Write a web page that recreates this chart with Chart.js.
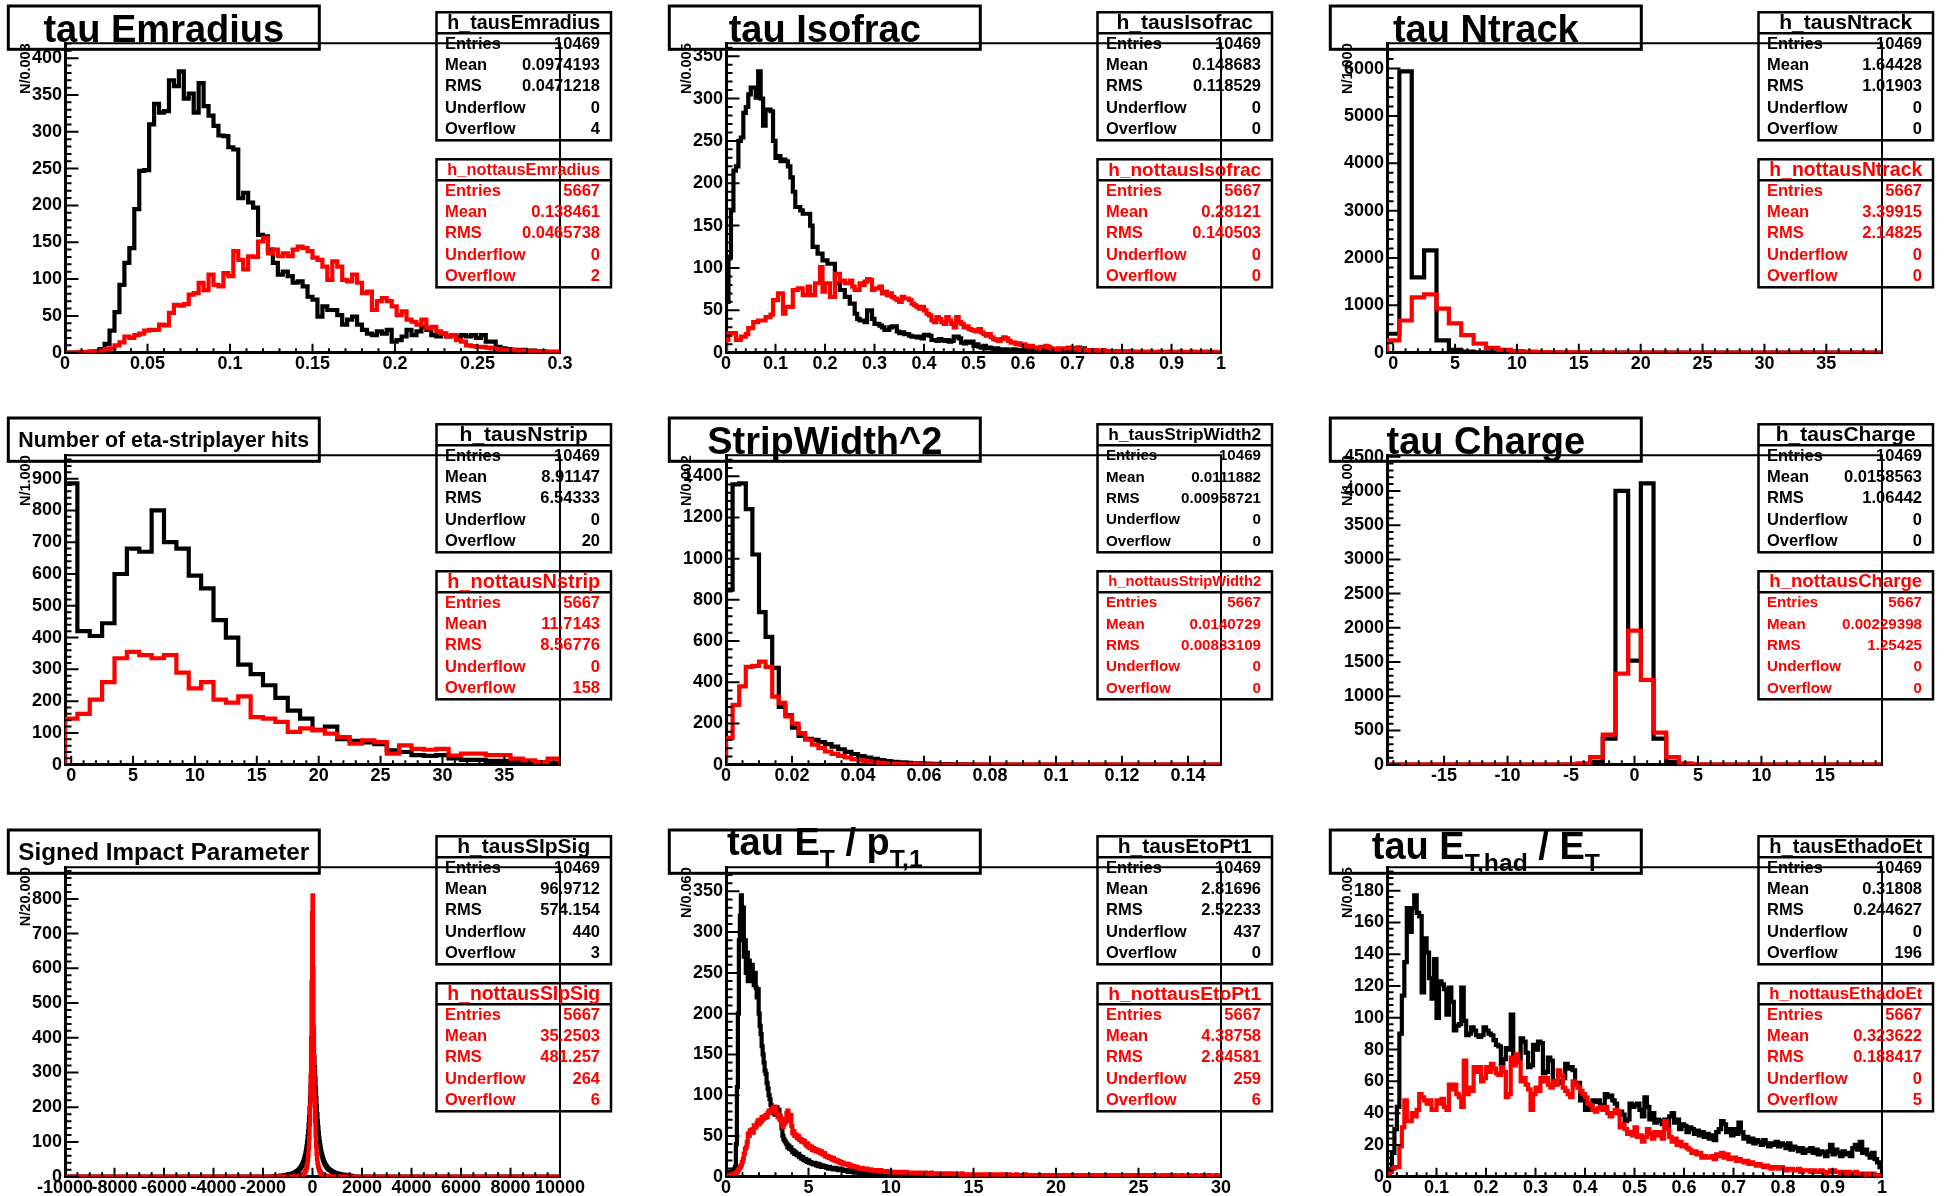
<!DOCTYPE html>
<html>
<head>
<meta charset="utf-8">
<title>Tau identification variables</title>
<script src="https://cdn.jsdelivr.net/npm/chart.js@4.4.1/dist/chart.umd.min.js"></script>
<style>
  html, body { margin: 0; padding: 0; background: #ffffff; width: 1946px; height: 1196px; overflow: hidden; }
</style>
</head>
<body>
<script>
// ---------------- histogram contents (bin counts) ----------------

// EM radius, 100 bins on [0, 0.3]
const emradiusTaus = [
  0,0,0,0,0,1,2,5,12,30,
  55,92,122,142,195,247,248,310,338,326,
  328,370,362,382,345,352,326,366,335,322,
  308,295,294,279,276,210,217,204,197,160,
  158,140,122,106,110,104,95,97,90,76,
  72,49,63,58,58,51,38,45,49,38,
  31,26,24,29,26,31,15,17,22,31,
  24,29,35,31,24,22,26,22,24,22,
  24,22,24,20,24,15,15,8,6,5,
  4,4,4,3,3,2,2,1,1,1];
const emradiusNotTaus = [
  0,0,0,1,1,2,2,3,5,6,
  10,14,22,20,24,26,30,31,31,38,
  37,54,65,64,66,79,81,95,85,106,
  92,90,108,104,138,126,113,131,130,151,
  156,135,140,131,135,131,140,144,142,138,
  129,126,117,99,124,117,99,97,106,95,
  81,83,58,70,74,70,63,51,56,45,
  42,38,45,33,35,29,26,22,24,17,
  15,10,9,8,8,7,6,5,4,4,
  4,3,3,3,2,2,2,1,1,1];

// isolation fraction, 200 bins on [0, 1]
const isofracTaus = [
  60,113,168,215,220,250,254,283,290,305,
  313,313,301,332,300,268,287,287,285,250,
  230,232,226,228,226,220,207,190,172,172,
  168,164,164,164,150,125,125,117,117,109,
  109,105,105,105,82,82,74,74,66,66,
  58,58,46,40,38,38,36,50,50,40,
  34,34,32,30,27,27,30,31,31,25,
  23,24,22,22,20,19,19,18,19,17,
  21,21,20,15,15,14,16,15,14,15,
  13,14,19,19,17,12,11,13,12,13,
  8,10,7,6,8,5,6,5,4,5,
  4,4,3,4,3,3,4,3,2,3,
  3,2,3,2,2,2,3,2,2,1,
  2,2,1,2,2,1,2,2,1,2,
  4,5,6,4,5,3,2,2,1,2,
  1,1,2,1,1,1,0,1,1,0,
  1,0,1,0,0,1,0,0,1,0,
  0,1,0,0,0,1,0,0,0,1,
  0,0,0,1,0,0,0,0,1,0,
  0,0,0,0,1,0,0,0,0,0];
const isofracNotTaus = [
  15,23,23,23,15,15,19,19,22,29,
  29,36,36,38,38,38,42,42,45,62,
  62,70,70,46,54,54,54,74,74,76,
  76,68,68,78,68,68,82,82,101,72,
  82,82,66,66,93,93,85,85,82,82,
  85,78,74,74,82,80,84,87,86,74,
  76,76,78,70,72,68,70,66,64,62,
  60,66,64,64,62,58,56,54,52,54,
  50,46,44,38,36,42,40,36,34,42,
  38,34,30,42,36,34,30,31,28,27,
  26,25,28,24,22,20,22,18,16,15,
  14,16,18,17,14,12,12,10,11,9,
  10,8,7,8,6,6,5,7,6,8,
  7,5,4,4,5,4,5,5,6,5,
  5,4,5,3,4,3,3,2,3,3,
  2,2,3,2,2,2,1,2,2,1,
  2,1,1,2,1,1,1,1,0,1,
  1,0,1,1,0,1,0,1,1,0,
  1,0,0,1,0,1,0,1,0,0,
  1,0,0,1,0,0,0,1,0,0];

// number of tracks, 40 bins on [-0.5, 39.5]
const ntrackTaus = [
  400,5940,1590,2160,260,60,25,10,5,3,
  2,1,1,0,0,0,0,0,0,0,
  0,0,0,0,0,0,0,0,0,0,
  0,0,0,0,0,0,0,0,0,0];
const ntrackNotTaus = [
  260,680,1170,1230,930,620,370,190,100,60,
  35,25,15,10,8,5,4,3,2,2,
  1,1,1,1,0,1,0,0,1,0,
  0,0,0,0,0,0,0,0,0,0];

// eta-strip layer hits, 40 bins on [-0.5, 39.5]
const nstripTaus = [
  885,420,405,445,600,680,670,800,700,680,
  595,555,455,400,315,285,250,210,170,145,
  110,120,80,75,70,65,45,40,30,28,
  30,20,15,15,12,12,10,8,6,5];
const nstripNotTaus = [
  145,160,205,260,335,355,345,335,345,290,
  240,260,205,195,215,150,145,135,103,114,
  108,98,87,66,77,71,35,61,50,47,
  50,29,35,35,30,30,19,14,8,19];

// strip width squared, 75 bins on [0, 0.15]
const stripWidthTaus = [
  850,1360,1365,1240,1020,740,620,470,280,240,
  180,140,125,120,110,100,88,75,62,52,
  42,35,28,22,18,14,11,9,7,6,
  5,4,3,3,2,2,2,1,1,1,
  1,1,0,1,0,0,1,0,0,0,
  0,0,0,0,0,0,0,0,0,0,
  0,0,0,0,0,0,0,0,0,0,
  0,0,0,0,0];
const stripWidthNotTaus = [
  130,290,380,475,480,500,475,330,300,235,
  200,153,121,97,80,64,53,43,35,27,
  21,16,12,9,7,5,4,3,3,2,
  2,1,1,1,1,1,0,1,0,0,
  0,0,0,0,0,0,0,0,0,0,
  0,0,0,0,0,0,0,0,0,0,
  0,0,0,0,0,0,0,0,0,0,
  0,0,0,0,0];

// charge, 39 bins on [-19.5, 19.5]
const chargeTaus = [
  0,0,0,0,0,0,0,0,0,0,
  0,0,0,0,0,5,40,380,4000,1520,
  4110,380,40,5,0,0,0,0,0,0,
  0,0,0,0,0,0,0,0,0];
const chargeNotTaus = [
  0,0,0,0,0,0,0,0,0,0,
  0,0,0,0,5,20,110,440,1330,1960,
  1240,470,110,20,5,0,0,0,0,0,
  0,0,0,0,0,0,0,0,0];

// signed impact parameter significance, bins of 20 on [-1600, 1600]
// (all other bins of the [-10000, 10000] axis are empty)
const sipSigTaus = [
  1,1,2,1,1,2,1,2,2,2, 2,2,2,2,2,3,3,3,3,3,
  3,4,4,4,4,4,5,5,5,5, 6,6,6,7,7,7,8,8,8,9,
  9,10,10,11,12,12,13,14,15,16, 17,18,20,21,23,25,27,29,32,35,
  38,42,46,51,57,63,70,79,89,101, 115,131,150,172,198,228,262,300,340,370,
  390,385,370,345,315,285,255,228,203,180, 160,142,126,112,100,90,81,73,66,60,
  55,50,46,42,39,36,33,31,29,27, 25,23,22,21,20,19,18,17,16,15,
  14,13,13,12,12,11,11,10,10,9, 9,9,8,8,8,7,7,7,6,6,
  6,6,5,5,5,5,5,4,4,4, 4,4,3,3,3,3,3,3,2,2];
const sipSigNotTaus = [
  0,0,0,1,0,0,0,1,0,0, 1,0,0,1,0,0,1,0,0,1,
  0,0,1,0,1,0,0,1,0,1, 0,1,1,0,1,0,1,1,0,1,
  1,1,1,1,1,1,1,1,1,2, 2,2,2,3,3,3,4,4,5,5,
  6,7,8,10,12,15,18,23,29,37, 47,62,82,110,150,205,290,400,560,760,
  810,600,430,310,220,160,118,88,66,50, 39,31,25,20,16,13,11,9,8,7,
  6,5,5,4,4,3,3,3,2,2, 2,2,2,1,1,1,1,1,1,1,
  1,1,0,1,1,0,1,1,0,1, 0,1,0,1,0,0,1,0,1,0,
  0,1,0,0,1,0,0,0,1,0, 0,1,0,0,0,1,0,0,0,0];

// E_T / p_T of leading track, 500 bins on [0, 30]
const etoPtTaus = [
  3,4,5,5,6,6,7,8,9,12, 40,110,200,290,320,345,300,330,270,290,
  250,275,240,265,250,240,260,245,235,250, 232,220,230,200,185,175,160,150,140,130,
  126,115,108,100,95,88,85,82,80,76, 80,85,78,82,75,70,60,50,46,44,
  42,40,36,38,34,36,33,30,32,28, 30,27,26,28,24,25,22,24,21,20,
  22,19,18,20,17,18,16,17,15,17, 15,14,16,13,15,14,12,14,13,12,
  13,11,12,10,12,11,10,11,9,10, 11,9,10,8,9,10,8,9,8,7,
  8,7,8,6,7,8,6,7,6,5, 7,6,5,6,5,6,5,4,6,5,
  5,4,5,6,4,5,4,5,4,3, 5,4,4,3,5,4,3,4,3,4,
  3,4,3,4,3,2,4,3,3,4, 3,3,2,4,3,3,2,3,3,2,
  3,2,3,3,2,3,2,2,3,2, 3,2,2,3,2,2,3,2,2,2,
  2,3,2,2,1,2,3,2,2,1, 2,2,3,2,1,2,2,1,2,2,
  2,1,2,2,3,2,1,2,2,1, 2,1,2,2,1,2,2,1,1,2,
  2,1,2,1,2,2,1,2,1,1, 2,1,1,2,1,2,1,1,2,1,
  1,2,1,1,2,1,1,2,1,1, 1,2,1,1,1,2,1,1,2,1,
  1,1,2,1,1,1,2,1,1,1, 2,1,1,1,1,2,1,1,1,1,
  1,2,1,1,1,1,2,1,1,1, 1,1,1,2,1,1,1,1,1,2,
  1,1,1,1,1,2,1,1,1,1, 1,2,1,1,1,1,1,1,2,1,
  1,1,1,1,2,1,1,1,1,1, 1,1,2,1,1,1,1,1,1,1,
  2,1,1,1,1,1,1,2,1,1, 1,1,1,1,1,2,1,1,1,1,
  1,1,1,2,1,1,1,1,1,1, 1,1,2,1,1,1,1,1,1,1,
  1,1,1,1,1,2,1,1,1,1, 1,1,1,1,1,1,1,2,1,1,
  1,1,1,1,1,1,1,1,1,1, 1,1,2,1,1,1,1,1,0,1,
  1,1,1,0,1,1,1,1,1,0, 1,1,1,1,0,1,1,1,1,1,
  0,1,1,1,1,1,0,1,1,1, 1,0,1,1,1,1,1,0,1,1,
  1,1,0,1,1,1,1,1,0,1, 1,1,1,0,1,1,1,1,1,0];
const etoPtNotTaus = [
  1,1,2,2,2,3,3,3,4,4, 5,6,8,10,12,14,18,22,28,34,
  36,42,53,50,57,55,58,54,63,60, 62,66,69,64,70,67,73,70,74,72,
  76,73,78,81,78,82,80,84,85,86, 82,78,73,76,70,72,66,61,64,66,
  70,78,81,74,68,76,62,53,56,50, 52,49,47,50,45,46,43,45,42,44,
  40,38,41,36,38,35,37,33,35,32, 34,31,33,30,32,29,31,28,27,29,
  25,26,24,25,23,24,22,21,23,20, 21,19,20,18,19,17,18,16,17,15,
  16,15,16,14,15,13,14,13,12,13, 12,11,12,11,10,11,10,11,9,10,
  10,9,10,8,9,8,9,8,7,8, 8,7,8,7,7,6,8,7,6,7,
  7,6,7,6,6,7,5,6,6,5, 6,6,5,6,5,5,6,5,5,6,
  5,5,6,4,5,5,4,5,5,4, 5,4,5,4,4,5,4,4,5,4,
  4,5,4,4,3,4,4,5,3,4, 4,3,4,4,3,4,3,4,4,3,
  3,4,3,4,3,3,4,3,3,4, 3,3,4,3,3,3,2,3,4,3,
  3,3,2,3,3,2,3,3,2,3, 3,2,3,3,2,3,2,3,2,3,
  2,3,2,3,2,2,3,2,2,3, 2,2,3,2,2,2,3,2,2,2,
  2,3,2,2,2,2,3,2,2,2, 2,2,2,3,2,2,2,2,2,2,
  2,2,3,2,2,2,1,2,2,2, 2,1,2,2,2,2,1,2,2,1,
  2,2,1,2,2,1,2,2,1,2, 2,1,2,1,2,2,1,2,1,2,
  1,2,1,2,1,2,1,1,2,1, 2,1,1,2,1,2,1,1,2,1,
  1,2,1,1,2,1,1,2,1,1, 2,1,1,1,2,1,1,2,1,1,
  1,2,1,1,1,2,1,1,1,2, 1,1,2,1,1,1,2,1,1,1,
  2,1,1,1,1,2,1,1,1,2, 1,1,1,2,1,1,1,1,2,1,
  1,1,2,1,1,1,1,2,1,1, 1,1,1,1,2,1,1,1,1,1,
  2,1,1,1,1,1,2,1,1,1, 1,1,1,2,1,1,1,1,1,1,
  2,1,1,1,1,1,1,2,1,1, 1,1,1,1,2,1,1,1,1,1,
  1,2,1,1,1,1,1,1,2,1, 1,1,1,1,1,2,1,1,1,1];

// hadronic E_T fraction, 200 bins on [0, 1]
const ethadTaus = [
  2,5,15,30,44,90,114,135,169,154, 169,177,166,164,116,150,141,125,112,137,
  100,123,121,118,102,119,110,92,95,96, 119,98,89,90,94,92,89,88,89,94,
  92,90,89,86,83,82,71,74,81,80, 102,75,76,74,87,85,78,69,70,83,
  80,85,84,65,66,75,73,58,60,59, 60,62,71,68,69,67,58,59,48,50,
  42,44,42,48,47,48,44,45,52,50, 51,48,46,40,41,39,35,36,46,44,
  45,46,42,38,50,44,36,40,34,36, 35,33,36,32,38,40,34,36,30,33,
  32,28,31,30,27,29,26,28,25,27, 24,26,23,28,30,35,33,28,30,26,
  30,27,34,28,24,25,22,24,21,23, 22,20,23,21,19,21,20,22,19,21,
  20,18,21,17,19,18,16,18,15,17, 16,18,15,17,14,16,15,13,16,20,
  14,17,15,13,16,14,15,13,18,20, 17,22,15,17,14,12,15,11,9,6];
const ethadNotTaus = [
  2,3,5,6,6,19,31,48,35,35, 40,38,42,52,50,48,46,48,42,42,
  48,46,49,44,42,58,55,58,52,50, 44,73,52,56,54,69,66,69,60,62,
  69,66,71,68,65,64,69,66,50,52, 75,70,77,72,60,62,58,55,42,52,
  56,54,62,60,62,58,56,60,58,67, 64,56,54,52,50,60,58,56,54,52,
  50,46,45,42,41,43,44,42,44,40, 38,40,42,41,31,33,30,27,28,26,
  31,25,26,22,25,30,27,24,28,26, 28,24,35,30,25,22,24,20,22,19,
  20,18,17,15,16,14,15,12,13,12, 12,13,11,14,13,15,12,14,11,12,
  12,10,11,10,9,10,8,9,8,7, 8,7,6,7,6,5,6,6,5,6,
  5,4,5,5,4,4,5,3,4,4, 4,3,4,3,3,4,3,2,3,4,
  4,3,3,2,3,2,3,2,2,3, 2,2,1,2,2,1,2,1,1,1];

// ---------------- axis tick labels ----------------
const emradiusXTicks = [0, 0.05, 0.1, 0.15, 0.2, 0.25, 0.3];
const emradiusYTicks = [0, 50, 100, 150, 200, 250, 300, 350, 400];
const isofracXTicks = [0, 0.1, 0.2, 0.3, 0.4, 0.5, 0.6, 0.7, 0.8, 0.9, 1];
const isofracYTicks = [0, 50, 100, 150, 200, 250, 300, 350];
const countXTicks = [0, 5, 10, 15, 20, 25, 30, 35];
const ntrackYTicks = [0, 1000, 2000, 3000, 4000, 5000, 6000];
const nstripYTicks = [0, 100, 200, 300, 400, 500, 600, 700, 800, 900];
const stripWidthXTicks = [0, 0.02, 0.04, 0.06, 0.08, 0.1, 0.12, 0.14];
const stripWidthYTicks = [0, 200, 400, 600, 800, 1000, 1200, 1400];
const chargeXTicks = [-15, -10, -5, 0, 5, 10, 15];
const chargeYTicks = [0, 500, 1000, 1500, 2000, 2500, 3000, 3500, 4000, 4500];
const sipSigXTicks = [-10000, -8000, -6000, -4000, -2000, 0, 2000, 4000, 6000, 8000, 10000];
const sipSigYTicks = [0, 100, 200, 300, 400, 500, 600, 700, 800];
const etoPtXTicks = [0, 5, 10, 15, 20, 25, 30];
const etoPtYTicks = [0, 50, 100, 150, 200, 250, 300, 350];
const ethadXTicks = [0, 0.1, 0.2, 0.3, 0.4, 0.5, 0.6, 0.7, 0.8, 0.9, 1];
const ethadYTicks = [0, 20, 40, 60, 80, 100, 120, 140, 160, 180];

// ---------------- statistics boxes: name, Entries, Mean, RMS, Underflow, Overflow ----------------
const statsEmradiusTaus      = ['h_tausEmradius', '10469', '0.0974193', '0.0471218', '0', '4'];
const statsEmradiusNotTaus   = ['h_nottausEmradius', '5667', '0.138461', '0.0465738', '0', '2'];
const statsIsofracTaus       = ['h_tausIsofrac', '10469', '0.148683', '0.118529', '0', '0'];
const statsIsofracNotTaus    = ['h_nottausIsofrac', '5667', '0.28121', '0.140503', '0', '0'];
const statsNtrackTaus        = ['h_tausNtrack', '10469', '1.64428', '1.01903', '0', '0'];
const statsNtrackNotTaus     = ['h_nottausNtrack', '5667', '3.39915', '2.14825', '0', '0'];
const statsNstripTaus        = ['h_tausNstrip', '10469', '8.91147', '6.54333', '0', '20'];
const statsNstripNotTaus     = ['h_nottausNstrip', '5667', '11.7143', '8.56776', '0', '158'];
const statsStripWidthTaus    = ['h_tausStripWidth2', '10469', '0.0111882', '0.00958721', '0', '0'];
const statsStripWidthNotTaus = ['h_nottausStripWidth2', '5667', '0.0140729', '0.00833109', '0', '0'];
const statsChargeTaus        = ['h_tausCharge', '10469', '0.0158563', '1.06442', '0', '0'];
const statsChargeNotTaus     = ['h_nottausCharge', '5667', '0.00229398', '1.25425', '0', '0'];
const statsSipSigTaus        = ['h_tausSIpSig', '10469', '96.9712', '574.154', '440', '3'];
const statsSipSigNotTaus     = ['h_nottausSIpSig', '5667', '35.2503', '481.257', '264', '6'];
const statsEtoPtTaus         = ['h_tausEtoPt1', '10469', '2.81696', '2.52233', '437', '0'];
const statsEtoPtNotTaus      = ['h_nottausEtoPt1', '5667', '4.38758', '2.84581', '259', '6'];
const statsEthadTaus         = ['h_tausEthadoEt', '10469', '0.31808', '0.244627', '0', '196'];
const statsEthadNotTaus      = ['h_nottausEthadoEt', '5667', '0.323622', '0.188417', '0', '5'];
const STAT_LABELS = ['Entries', 'Mean', 'RMS', 'Underflow', 'Overflow'];

// ---------------- pad layout ----------------
const FONT = '"Liberation Sans", Arial, Helvetica, sans-serif';
const COLS = [0, 661, 1322];
const ROWS = [0, 412, 824];
const PAD_W = 661, PAD_H = 412;
const AREA = { left: 65, top: 43.3, right: 560, bottom: 352.7 };
const Y_AXIS_W = 60, X_AXIS_H = 30;
const TICK_FONT = 18;

const panels = [
  { row: 0, col: 0, title: [['tau Emradius', 0]], titleBase: 41.5, yTitle: 'N/0.003',
    lo: 0, w: 0.003, xMin: 0, xMax: 0.3, taus: emradiusTaus, notTaus: emradiusNotTaus,
    xTicks: emradiusXTicks, xDiv: 5, yTicks: emradiusYTicks, yDiv: 5,
    stats: [statsEmradiusTaus, statsEmradiusNotTaus] },
  { row: 0, col: 1, title: [['tau Isofrac', 0]], titleBase: 41.5, yTitle: 'N/0.005',
    lo: 0, w: 0.005, xMin: 0, xMax: 1, taus: isofracTaus, notTaus: isofracNotTaus,
    xTicks: isofracXTicks, xDiv: 5, yTicks: isofracYTicks, yDiv: 5,
    stats: [statsIsofracTaus, statsIsofracNotTaus] },
  { row: 0, col: 2, title: [['tau Ntrack', 0]], titleBase: 41.5, yTitle: 'N/1.000',
    lo: -0.5, w: 1, xMin: -0.5, xMax: 39.5, taus: ntrackTaus, notTaus: ntrackNotTaus,
    xTicks: countXTicks, xDiv: 5, yTicks: ntrackYTicks, yDiv: 5,
    stats: [statsNtrackTaus, statsNtrackNotTaus] },
  { row: 1, col: 0, title: [['Number of eta-striplayer hits', 0]], titleBase: 34.5, yTitle: 'N/1.000',
    lo: -0.5, w: 1, xMin: -0.5, xMax: 39.5, taus: nstripTaus, notTaus: nstripNotTaus,
    xTicks: countXTicks, xDiv: 5, yTicks: nstripYTicks, yDiv: 5,
    stats: [statsNstripTaus, statsNstripNotTaus] },
  { row: 1, col: 1, title: [['StripWidth^2', 0]], titleBase: 41.5, yTitle: 'N/0.002',
    lo: 0, w: 0.002, xMin: 0, xMax: 0.15, taus: stripWidthTaus, notTaus: stripWidthNotTaus,
    xTicks: stripWidthXTicks, xDiv: 4, yTicks: stripWidthYTicks, yDiv: 5,
    stats: [statsStripWidthTaus, statsStripWidthNotTaus] },
  { row: 1, col: 2, title: [['tau Charge', 0]], titleBase: 41.5, yTitle: 'N/1.000',
    lo: -19.5, w: 1, xMin: -19.5, xMax: 19.5, taus: chargeTaus, notTaus: chargeNotTaus,
    xTicks: chargeXTicks, xDiv: 5, yTicks: chargeYTicks, yDiv: 5,
    stats: [statsChargeTaus, statsChargeNotTaus] },
  { row: 2, col: 0, title: [['Signed Impact Parameter', 0]], titleBase: 36, yTitle: 'N/20.000',
    lo: -1600, w: 20, xMin: -10000, xMax: 10000, taus: sipSigTaus, notTaus: sipSigNotTaus,
    xTicks: sipSigXTicks, xDiv: 4, yTicks: sipSigYTicks, yDiv: 5,
    stats: [statsSipSigTaus, statsSipSigNotTaus] },
  { row: 2, col: 1, title: [['tau E', 0], ['T', 1], [' / p', 0], ['T,1', 1]], titleBase: 31, yTitle: 'N/0.060',
    lo: 0, w: 0.06, xMin: 0, xMax: 30, taus: etoPtTaus, notTaus: etoPtNotTaus,
    xTicks: etoPtXTicks, xDiv: 5, yTicks: etoPtYTicks, yDiv: 5,
    stats: [statsEtoPtTaus, statsEtoPtNotTaus] },
  { row: 2, col: 2, title: [['tau E', 0], ['T,had', 1], [' / E', 0], ['T', 1]], titleBase: 35, yTitle: 'N/0.005',
    lo: 0, w: 0.005, xMin: 0, xMax: 1, taus: ethadTaus, notTaus: ethadNotTaus,
    xTicks: ethadXTicks, xDiv: 5, yTicks: ethadYTicks, yDiv: 5,
    stats: [statsEthadTaus, statsEthadNotTaus] }
];

// ---------------- helpers ----------------
// Step outline of a histogram: starts and ends on the baseline, empty bins outside [lo, hi].
function outline(lo, w, vals, xMin, xMax) {
  const pts = [];
  const hi = lo + w * vals.length;
  if (lo > xMin) pts.push({ x: xMin, y: 0 });
  pts.push({ x: lo, y: 0 });
  vals.forEach((v, i) => pts.push({ x: lo + i * w, y: v }));
  pts.push({ x: hi, y: 0 });
  if (hi < xMax) pts.push({ x: xMax, y: 0 });
  return pts;
}

function fmt(v) { return String(Math.round(v * 1e6) / 1e6); }

function tickGrid(major, ndiv, min, max) {
  const step = (major[1] - major[0]) / ndiv;
  const first = major[0] - Math.floor((major[0] - min) / step + 1e-6) * step;
  const out = [];
  for (let i = 0; first + i * step <= max + step * 1e-6; i++) out.push(first + i * step);
  return out;
}

function isMajor(v, major) {
  const s = major[1] - major[0];
  return major.some(m => Math.abs(m - v) < s * 1e-4);
}

function emWidth(ctx, text) {
  ctx.font = 'bold 100px ' + FONT;
  return ctx.measureText(text).width / 100;
}

function axisOpts(min, max, ticks, horizontal) {
  return {
    type: 'linear', min: min, max: max, bounds: 'data',
    afterFit: s => { if (horizontal) s.height = X_AXIS_H; else s.width = Y_AXIS_W; },
    afterBuildTicks: s => { s.ticks = ticks.map(v => ({ value: v })); },
    grid: { display: false, drawTicks: false },
    border: { display: true, color: '#000000', width: 3 },
    ticks: {
      autoSkip: false, maxRotation: 0, minRotation: 0,
      padding: horizontal ? 1 : 3, color: '#000000',
      font: { family: FONT, size: TICK_FONT, weight: 'bold' },
      callback: v => fmt(v)
    }
  };
}

// Inward tick marks, frame, title box, axis title and the two statistics boxes.
function makeDecor(p) {
  return {
    id: 'rootDecor',
    afterDatasetsDraw(chart) {
      const ctx = chart.ctx, a = chart.chartArea;
      const xs = chart.scales.x, ys = chart.scales.y;
      ctx.save();
      ctx.strokeStyle = '#000000';
      ctx.lineCap = 'butt';

      // frame (top and right)
      ctx.lineWidth = 2;
      ctx.beginPath();
      ctx.moveTo(a.left, a.top); ctx.lineTo(a.right, a.top); ctx.lineTo(a.right, a.bottom);
      ctx.stroke();

      // tick marks
      ctx.lineWidth = 2;
      ctx.beginPath();
      for (const v of tickGrid(p.xTicks, p.xDiv, xs.min, xs.max)) {
        const len = isMajor(v, p.xTicks) ? 9 : 4.5;
        const px = xs.getPixelForValue(v);
        ctx.moveTo(px, a.bottom); ctx.lineTo(px, a.bottom - len);
      }
      for (const v of tickGrid(p.yTicks, p.yDiv, ys.min, ys.max)) {
        const len = isMajor(v, p.yTicks) ? 13.5 : 6.5;
        const py = ys.getPixelForValue(v);
        ctx.moveTo(a.left, py); ctx.lineTo(a.left + len, py);
      }
      ctx.stroke();

      // y axis title
      ctx.save();
      ctx.fillStyle = '#000000';
      ctx.font = 'bold 14.5px ' + FONT;
      ctx.translate(25.5, a.top);
      ctx.rotate(-Math.PI / 2);
      ctx.textAlign = 'right';
      ctx.textBaseline = 'middle';
      ctx.fillText(p.yTitle, 0, 0);
      ctx.restore();

      // title box
      const tb = { x: 8.3, y: 6, w: 311, h: 43.3 };
      ctx.lineWidth = 3;
      ctx.strokeRect(tb.x, tb.y, tb.w, tb.h);
      const plain = p.title.map(t => t[0]).join('');
      const size = p.title.length === 1 ? Math.min(38, 291 / emWidth(ctx, plain)) : 38;
      const sub = size * 0.65;
      const pieces = p.title.map(t => {
        const s = t[1] ? sub : size;
        return { text: t[0], sub: t[1], size: s, w: emWidth(ctx, t[0]) * s };
      });
      const total = pieces.reduce((acc, q) => acc + q.w, 0);
      let x = tb.x + tb.w / 2 - total / 2;
      const base = p.title.length === 1 && size < 38 ? 24.5 + 0.47 * size : p.titleBase;
      ctx.fillStyle = '#000000';
      ctx.textAlign = 'left';
      ctx.textBaseline = 'alphabetic';
      for (const q of pieces) {
        ctx.font = 'bold ' + q.size + 'px ' + FONT;
        ctx.fillText(q.text, x, base + (q.sub ? 11.5 : 0));
        x += q.w;
      }

      drawStats(ctx, p.stats[0], 12.3, '#000000');
      drawStats(ctx, p.stats[1], 159.3, '#ff0000');
      ctx.restore();
    }
  };
}

function drawStats(ctx, s, top, color) {
  const L = 436.5, R = 611, H = 128, HEAD = 21;
  ctx.strokeStyle = '#000000';
  ctx.lineWidth = 2.5;
  ctx.strokeRect(L, top, R - L, H);
  ctx.beginPath();
  ctx.moveTo(L, top + HEAD); ctx.lineTo(R, top + HEAD);
  ctx.stroke();

  ctx.fillStyle = color;
  const hs = Math.min(21, 153 / emWidth(ctx, s[0]));
  ctx.font = 'bold ' + hs + 'px ' + FONT;
  ctx.textAlign = 'center';
  ctx.textBaseline = 'middle';
  ctx.fillText(s[0], (L + R) / 2, top + HEAD / 2 + 0.5);

  let rs = 16.5;
  for (let i = 1; i < s.length; i++) rs = Math.min(rs, 80 / emWidth(ctx, s[i]));
  ctx.font = 'bold ' + rs + 'px ' + FONT;
  const rowH = (H - HEAD) / 5;
  for (let i = 0; i < 5; i++) {
    const y = top + HEAD + rowH * (i + 0.5);
    ctx.textAlign = 'left';
    ctx.fillText(STAT_LABELS[i], L + 8.5, y);
    ctx.textAlign = 'right';
    ctx.fillText(s[i + 1], R - 11, y);
  }
}

// ---------------- build the nine pads ----------------
Chart.defaults.font.family = FONT;
Chart.defaults.font.weight = 'bold';
Chart.defaults.color = '#000000';

panels.forEach(p => {
  const wrap = document.createElement('div');
  wrap.style.cssText = 'position:absolute;left:' + COLS[p.col] + 'px;top:' + ROWS[p.row] +
    'px;width:' + PAD_W + 'px;height:' + PAD_H + 'px;';
  const cv = document.createElement('canvas');
  cv.width = PAD_W; cv.height = PAD_H;
  cv.style.width = PAD_W + 'px'; cv.style.height = PAD_H + 'px';
  wrap.appendChild(cv);
  document.body.appendChild(wrap);

  const peak = Math.max(...p.taus, ...p.notTaus);
  const lineStyle = { borderWidth: 4.2, stepped: 'before', tension: 0, fill: false,
    pointRadius: 0, pointHitRadius: 0, pointHoverRadius: 0,
    borderJoinStyle: 'miter', borderCapStyle: 'butt' };

  new Chart(cv, {
    type: 'line',
    data: {
      datasets: [
        Object.assign({ label: p.stats[1][0], data: outline(p.lo, p.w, p.notTaus, p.xMin, p.xMax),
          borderColor: '#ff0000', order: 1 }, lineStyle),
        Object.assign({ label: p.stats[0][0], data: outline(p.lo, p.w, p.taus, p.xMin, p.xMax),
          borderColor: '#000000', order: 2 }, lineStyle)
      ]
    },
    options: {
      responsive: false,
      animation: false,
      devicePixelRatio: 1,
      events: [],
      layout: { padding: { left: AREA.left - Y_AXIS_W, top: AREA.top, right: PAD_W - AREA.right,
                           bottom: PAD_H - AREA.bottom - X_AXIS_H } },
      plugins: { legend: { display: false }, tooltip: { enabled: false }, title: { display: false } },
      scales: {
        x: axisOpts(p.xMin, p.xMax, p.xTicks, true),
        y: axisOpts(0, peak * 1.1, p.yTicks, false)
      }
    },
    plugins: [makeDecor(p)]
  });
});
</script>
</body>
</html>
